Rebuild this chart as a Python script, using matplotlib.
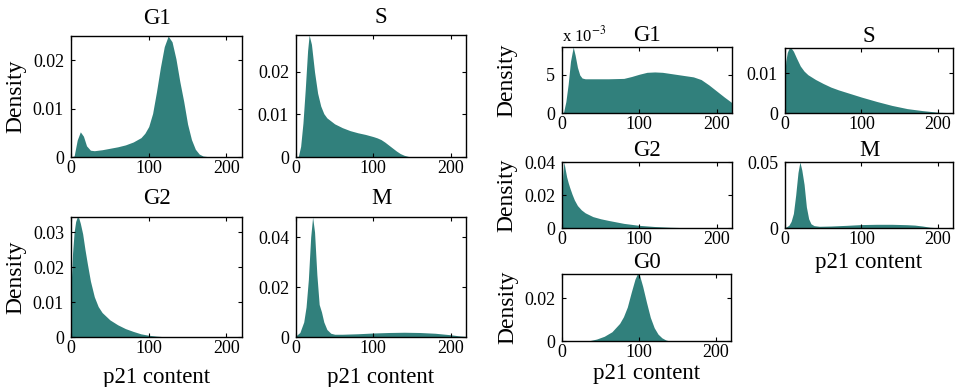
import numpy as np
import matplotlib.pyplot as plt

plt.rcParams['font.family'] = ['Liberation Serif', 'DejaVu Serif']
plt.rcParams['mathtext.fontset'] = 'stix'

teal = '#31807c'

# densities below are in units of 1e-3
# left block
g1a_x = [0, 4, 8, 12, 16, 20, 25, 30, 40, 50, 60, 70, 80, 90, 95, 100, 105, 110,
         115, 120, 125, 130, 135, 140, 145, 150, 155, 160, 165, 170, 180, 220]
g1a_y = [0, 0.2, 3.5, 5.2, 4.3, 2.3, 1.4, 1.3, 1.5, 1.8, 2.1, 2.5, 3.1, 4.0, 4.9, 6.3,
         9.0, 13.5, 18.5, 22.8, 25.0, 23.8, 20.3, 15.6, 11.5, 6.8, 3.6, 1.6, 0.6, 0.2, 0, 0]

sa_x = [0, 3, 6, 9, 12, 15, 17, 20, 24, 28, 32, 36, 40, 50, 60, 70, 80, 90, 100,
        105, 110, 115, 120, 125, 130, 135, 140, 145, 150, 220]
sa_y = [0, 0.1, 2.5, 8, 16, 25, 28.7, 26.5, 20, 15, 12, 10.2, 9.2, 7.8, 6.9, 6.2, 5.7,
        5.3, 4.8, 4.5, 4.1, 3.5, 2.8, 2.1, 1.4, 0.8, 0.4, 0.15, 0, 0]

g2a_x = [0, 2, 4, 6, 8, 10, 12, 15, 18, 21, 25, 30, 35, 40, 50, 60, 70, 80, 90,
         100, 110, 125, 220]
g2a_y = [14, 24, 30, 33, 34.3, 34, 32.5, 29.5, 25, 21, 16, 11.5, 8.7, 7, 4.9, 3.5,
         2.4, 1.6, 0.9, 0.5, 0.25, 0, 0]

ma_x = [0, 5, 10, 13, 16, 19, 21.5, 24, 27, 30, 33, 36, 40, 45, 50, 60, 80, 100,
        120, 140, 160, 180, 190, 200, 210, 220]
ma_y = [0.5, 1.8, 6, 12, 23, 40, 48, 42, 25, 13, 10, 6, 3, 1.5, 1.1, 1.1, 1.3, 1.6,
        1.8, 1.9, 1.8, 1.5, 1.2, 0.9, 0.5, 0.2]

# right block
g1b_x = [0, 2, 5, 8, 11, 14.5, 17, 20, 23, 26, 30, 40, 60, 80, 90, 100, 110, 120,
         130, 140, 150, 160, 170, 180, 190, 200, 210, 220]
g1b_y = [0, 0.1, 1.5, 3.8, 6.8, 8.68, 7.6, 6.0, 5.0, 4.6, 4.5, 4.5, 4.5, 4.55, 4.8,
         5.1, 5.35, 5.4, 5.35, 5.2, 5.05, 4.9, 4.75, 4.4, 3.7, 2.9, 2.1, 1.35]

sb_x = [0, 1, 3, 5, 8, 11, 15, 20, 25, 30, 40, 50, 60, 70, 80, 100, 120, 140, 160,
        180, 200, 220]
sb_y = [10, 13, 15.2, 16.1, 16.3, 15.5, 13.8, 11.8, 10.5, 9.6, 8.4, 7.4, 6.5, 5.8,
        5.2, 4.0, 2.9, 1.9, 1.1, 0.6, 0.2, 0.05]

g2b_x = [0, 1, 2.5, 4, 6, 8, 10, 13, 16, 20, 25, 30, 40, 50, 60, 80, 100, 120, 140,
         160, 180, 220]
g2b_y = [21, 32, 40, 36, 31, 27.5, 24.5, 20.5, 17, 13.6, 11, 9.2, 6.9, 5.6, 4.6, 2.8,
         1.6, 0.9, 0.45, 0.2, 0.08, 0]

mb_x = [0, 5, 8, 11, 14, 17, 19.5, 22, 25, 28, 31, 34, 38, 45, 60, 80, 100, 120, 140,
        160, 170, 180, 190, 200, 220]
mb_y = [0.3, 2, 5, 11, 25, 42, 50, 44, 33, 16, 7, 3.2, 1.8, 1.3, 1.5, 2.0, 2.6, 2.8,
        2.8, 2.5, 2.2, 1.5, 0.6, 0.2, 0]

g0b_x = [0, 35, 45, 55, 65, 75, 80, 85, 90, 95, 98, 101, 105, 110, 115, 120, 125,
         130, 135, 140, 220]
g0b_y = [0, 0.1, 0.9, 2.2, 4.3, 8.2, 11.3, 15.8, 22.5, 28.8, 31.2, 30.5, 25.5, 18,
         11, 6.2, 3.2, 1.5, 0.5, 0, 0]

W, H = 955, 387


def rect(x0, y0, x1, y1):
    return [x0 / W, 1 - y1 / H, (x1 - x0) / W, (y1 - y0) / H]


# rect, x, y, title, yticks, ytick labels, xlabel y (axes coords) or None, title pad
panels = [
    (rect(71, 36, 242, 157), g1a_x, g1a_y, 'G1', [0, .01, .02], ['0', '0.01', '0.02'], True, None, 9),
    (rect(296, 35, 466, 157), sa_x, sa_y, 'S', [0, .01, .02], ['0', '0.01', '0.02'], False, None, 9),
    (rect(71, 217, 242, 337), g2a_x, g2a_y, 'G2', [0, .01, .02, .03], ['0', '0.01', '0.02', '0.03'], True, -0.25, 9),
    (rect(296, 217, 466, 337), ma_x, ma_y, 'M', [0, .02, .04], ['0', '0.02', '0.04'], False, -0.25, 9),
    (rect(562, 47, 732, 113), g1b_x, g1b_y, 'G1', [0, .005], ['0', '5'], True, None, 4),
    (rect(785, 48, 953, 113), sb_x, sb_y, 'S', [0, .01], ['0', '0.01'], False, None, 4),
    (rect(562, 162, 732, 228), g2b_x, g2b_y, 'G2', [0, .02, .04], ['0', '0.02', '0.04'], True, None, 4),
    (rect(785, 162, 953, 228), mb_x, mb_y, 'M', [0, .05], ['0', '0.05'], False, -0.36, 4),
    (rect(562, 274, 731, 341), g0b_x, g0b_y, 'G0', [0, .02], ['0', '0.02'], True, -0.33, 4),
]

fig = plt.figure(figsize=(W / 100, H / 100), dpi=100)

for r, x, y, title, yt, ytl, ylab, xlab_y, tpad in panels:
    ax = fig.add_axes(r)
    x = np.array(x)
    y = np.array(y) * 1e-3
    ax.fill_between(x, 0, y, color=teal, linewidth=0)
    ax.set_xlim(0, 220)
    ax.set_ylim(0, y.max())
    ax.set_xticks([0, 100, 200])
    ax.set_yticks(yt)
    ax.set_yticklabels(ytl)
    ax.tick_params(direction='in', top=True, right=True, length=3, width=0.8,
                   labelsize=13, pad=2)
    ax.tick_params(axis='y', pad=5)
    for s in ax.spines.values():
        s.set_linewidth(1.0)
    ax.set_title(title, fontsize=16.5, pad=tpad)
    if ylab:
        ax.set_ylabel('Density', fontsize=17)
        ax.yaxis.set_label_coords(-0.26, 0.5)
    if xlab_y is not None:
        ax.set_xlabel('p21 content', fontsize=16.5)
        ax.xaxis.set_label_coords(0.5, xlab_y)
    if title == 'G1' and yt[-1] < 0.01:
        ax.text(0, 1.03, r'x 10$^{-3}$', transform=ax.transAxes, fontsize=12,
                ha='left', va='bottom')

fig.savefig('out.png', dpi=100)
